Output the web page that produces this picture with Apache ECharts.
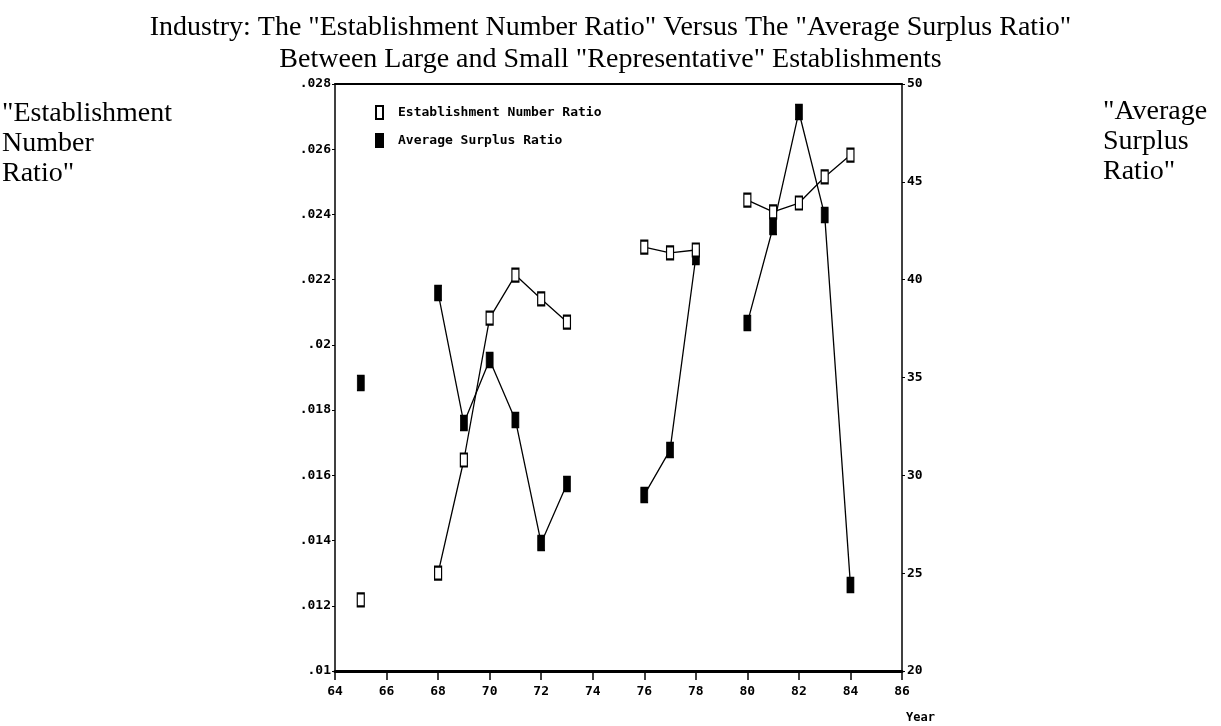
<!DOCTYPE html>
<html>
<head>
<meta charset="utf-8">
<script src="https://cdn.jsdelivr.net/npm/echarts@6/dist/echarts.min.js"></script>
<style>
  html, body { margin: 0; padding: 0; background: #fff; }
  #chart { width: 1221px; height: 726px; }
</style>
</head>
<body>
<div id="chart"></div>
<script>
const years = [65, 66, 67, 68, 69, 70, 71, 72, 73, 74, 75, 76, 77, 78, 79, 80, 81, 82, 83, 84]
// null = year with no observation (line is broken there)
const estRatio = [0.01218, null, null, 0.0130, 0.01647, 0.02082, 0.02214, 0.02141, 0.02070, null, null,
  0.0230, 0.02282, 0.02291, null, 0.02444, 0.02408, 0.02435, 0.02515, 0.02582]
const surplusRatio = [34.72, null, null, 39.32, 32.67, 35.89, 32.83, 26.54, 29.56, null, null,
  29.0, 31.29, 41.16, null, 37.79, 42.69, 48.57, 43.30, 24.39]
const titleLines = ['Industry: The "Establishment Number Ratio" Versus The "Average Surplus Ratio"',
  'Between Large and Small "Representative" Establishments']
const leftName = ['"Establishment', 'Number', 'Ratio"']
const rightName = ['"Average', 'Surplus', 'Ratio"']
const seriesNames = ['Establishment Number Ratio', 'Average Surplus Ratio']

const chart = echarts.init(document.getElementById('chart'))

const serif = '"Liberation Serif", "Times New Roman", serif'
const mono = '"DejaVu Sans Mono", monospace'

const tickLabel = {
  color: '#000',
  fontFamily: mono,
  fontWeight: 'bold',
  fontSize: 13
}

function toPairs(vals) {
  return years.map((y, i) => [y, vals[i] == null ? '-' : vals[i]])
}

const option = {
  backgroundColor: '#fff',
  animation: false,
  title: {
    text: titleLines.join('\n'),
    left: 'center',
    top: 7,
    textStyle: {
      fontFamily: serif,
      fontWeight: 'normal',
      fontSize: 28,
      lineHeight: 32,
      color: '#000'
    }
  },
  graphic: [
    {
      type: 'text', left: 2, top: 99,
      style: { text: leftName.join('\n'), font: '28px ' + serif, lineHeight: 30, fill: '#000' }
    },
    {
      type: 'text', left: 1103, top: 97,
      style: { text: rightName.join('\n'), font: '28px ' + serif, lineHeight: 30, fill: '#000' }
    },
    {
      type: 'text', left: 906, top: 712,
      style: { text: 'Year', font: 'bold 12px ' + mono, fill: '#000' }
    }
  ],
  legend: {
    orient: 'vertical',
    left: 370,
    top: 100,
    icon: 'rect',
    itemWidth: 7,
    itemHeight: 13,
    itemGap: 13,
    data: seriesNames,
    textStyle: {
      fontFamily: mono,
      fontWeight: 'bold',
      fontSize: 13,
      color: '#000',
      padding: [0, 0, 0, 10]
    }
  },
  grid: {
    left: 335,
    right: 319,
    top: 84,
    bottom: 55
  },
  xAxis: [
    {
      type: 'value',
      min: 64,
      max: 86,
      interval: 2,
      axisLine: { lineStyle: { color: '#000', width: 3 } },
      axisTick: { length: 9, lineStyle: { color: '#000', width: 1.5 } },
      axisLabel: Object.assign({ margin: 14 }, tickLabel),
      splitLine: { show: false }
    },
    {
      type: 'value',
      position: 'top',
      min: 64,
      max: 86,
      axisLine: { lineStyle: { color: '#000', width: 2 } },
      axisTick: { show: false },
      axisLabel: { show: false },
      splitLine: { show: false }
    }
  ],
  yAxis: [
    {
      type: 'value',
      min: 0.01,
      max: 0.028,
      interval: 0.002,
      axisLine: { show: true, lineStyle: { color: '#000', width: 1.5 } },
      axisTick: { show: true, length: 3, lineStyle: { color: '#000' } },
      axisLabel: Object.assign({
        margin: 4,
        padding: [0, 0, 6, 0],
        formatter: v => v.toFixed(3).replace(/^0/, '').replace(/0+$/, '')
      }, tickLabel),
      splitLine: { show: false }
    },
    {
      type: 'value',
      position: 'right',
      min: 20,
      max: 50,
      interval: 5,
      axisLine: { show: true, lineStyle: { color: '#000', width: 1.5 } },
      axisTick: { show: true, length: 3, lineStyle: { color: '#000' } },
      axisLabel: Object.assign({ margin: 5, padding: [0, 0, 6, 0] }, tickLabel),
      splitLine: { show: false }
    }
  ],
  series: [
    {
      name: seriesNames[1],
      type: 'line',
      yAxisIndex: 1,
      data: toPairs(surplusRatio),
      symbol: 'rect',
      symbolSize: [7, 15],
      showAllSymbol: true,
      lineStyle: { color: '#000', width: 1.3 },
      itemStyle: { color: '#000', borderColor: '#000', borderWidth: 1 },
      z: 2
    },
    {
      name: seriesNames[0],
      type: 'line',
      yAxisIndex: 0,
      data: toPairs(estRatio),
      symbol: 'rect',
      symbolSize: [7, 13],
      showAllSymbol: true,
      lineStyle: { color: '#000', width: 1.3 },
      itemStyle: { color: '#fff', borderColor: '#000', borderWidth: 1.6 },
      z: 3
    }
  ]
}

chart.setOption(option)
</script>
</body>
</html>
